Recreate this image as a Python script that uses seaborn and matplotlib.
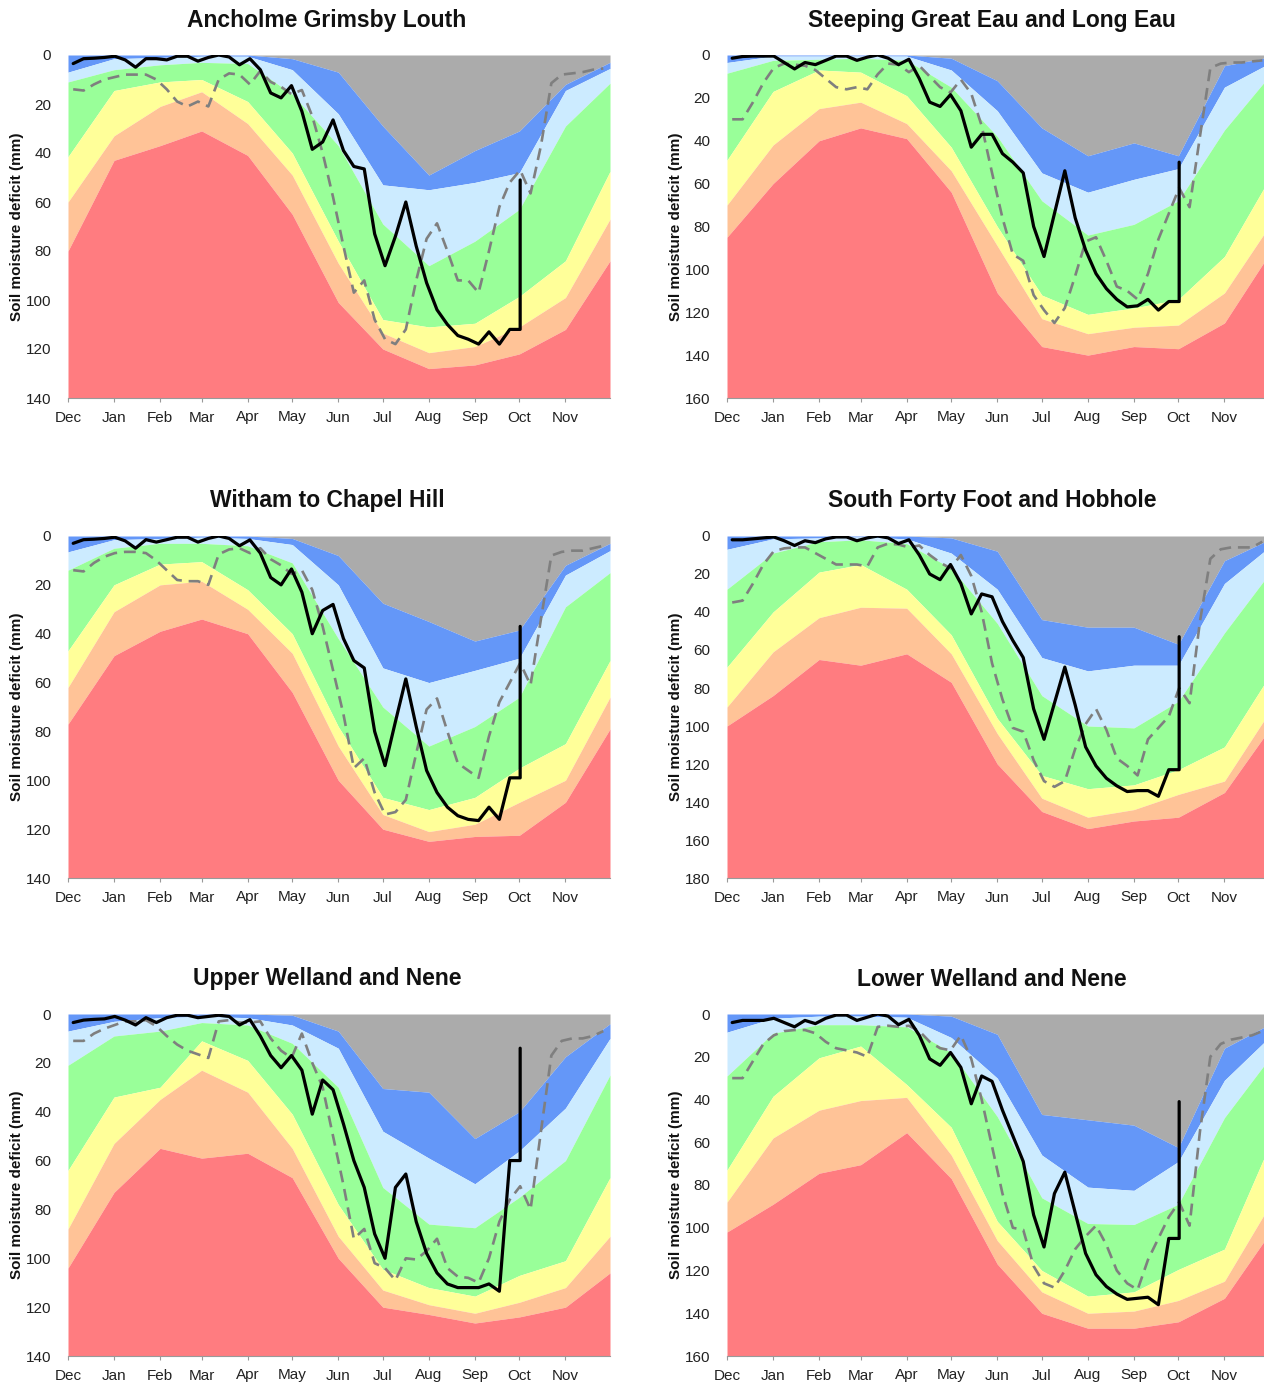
import numpy as np
import pandas as pd
import matplotlib
matplotlib.use("Agg")
import matplotlib.pyplot as plt
import seaborn as sns

# ---------------- data ----------------
months = ["Dec", "Jan", "Feb", "Mar", "Apr", "May", "Jun", "Jul", "Aug", "Sep", "Oct", "Nov"]
month_start_day = [0, 31, 62, 90, 121, 151, 182, 212, 243, 274, 304, 335]
season_end_day = 365
band_names = ["gray", "blue", "lightblue", "green", "yellow", "orange", "red"]

# band boundaries (mm) at each month start + season end; rows: gray/blue, blue/lightblue,
# lightblue/green, green/yellow, yellow/orange, orange/red
anc_bounds = [
    [0, 0, 0, 0, 0, 1.5, 7, 29, 49, 39, 31, 12, 3],
    [7, 1.5, 1, 0.5, 0.5, 6, 24, 53, 55, 52, 48, 14.5, 5.5],
    [11, 6, 4, 3, 3.5, 16, 37, 69, 86, 76, 63, 29, 11.5],
    [41.5, 14.5, 11, 10, 19, 40, 76, 108, 111, 109.5, 98.5, 84, 47.5],
    [60, 33, 21, 15, 28, 49, 85, 113.5, 121.5, 119, 111, 99, 67],
    [80, 43, 37, 31, 41, 65, 101, 120, 128, 126.5, 122, 112, 84],
]
anc_current = [3.5, 1.5, 1.3, 1, 0.5, 2, 5, 1.5, 1.5, 2, 0.5, 0.5, 2.5, 1, 0, 0.8, 4,
               1.5, 6, 15.5, 17.5, 12.5, 23, 38.5, 35.5, 26.5, 39, 45.5, 46.5, 73, 86, 74,
               60, 78, 93, 104, 110, 114.5, 116, 118, 113, 118, 112, 112]
anc_latest = 51
anc_previous = [14, 14.5, 12, 10, 9, 8, 8, 8, 10, 14, 19, 21, 19, 21, 10, 7.5, 8,
                12, 6.5, 11, 13, 16, 14.3, 25, 40, 58, 78, 97, 92, 108, 116, 118, 112, 92,
                75, 68.7, 80, 92, 92, 97, 80, 62, 52, 47, 56.5, 37, 11.5, 8, 7.5, 7, 6, 5.5]

ste_bounds = [
    [0, 0, 0, 0, 0, 1.5, 12, 34, 47, 41, 47, 5, 1],
    [3.5, 0.5, 0.5, 0.5, 0.5, 7, 26, 55, 64, 58, 53, 15, 4],
    [8.5, 2.5, 2, 1.5, 2.5, 15, 38, 68, 84, 79, 68, 35, 10],
    [49, 17, 7, 8, 19, 43, 80, 112, 121, 118, 114, 94, 58],
    [70, 42, 25, 22, 32, 54, 89, 123, 130, 127, 126, 111, 80],
    [85, 60, 40, 34, 39, 64, 111, 136, 140, 136, 137, 125, 93],
]
ste_current = [1.5, 0.7, 0.5, 0.5, 0.5, 3.5, 6.5, 3.5, 4.5, 2.5, 0.5, 0.5, 2.5, 1, 0, 1.5, 4.5,
               2, 11, 22, 24, 18.5, 26, 43, 37, 37, 46, 50, 55, 80, 94, 74, 54, 76, 91, 102,
               109, 114, 117.5, 117, 114, 119, 115, 115]
ste_latest = 50
ste_previous = [30, 30, 22, 13, 6, 4, 4.5, 5, 7, 11, 15, 16, 15, 16, 9, 4, 4.5,
                8, 5, 10, 15, 17.5, 11.5, 18, 33, 55, 76, 93, 96, 112, 119, 125, 118, 103,
                87, 85, 96, 108, 110, 114, 102, 86, 74, 62, 71, 38, 6, 4, 3.5, 3.5, 3, 2.5]

wit_bounds = [
    [0, 0, 0, 0, 0, 1, 8, 27.5, 35, 43, 38.5, 12, 3],
    [6.5, 1.5, 1, 0.5, 1, 3.5, 20, 54, 60, 55, 50, 16, 6],
    [14, 5, 3, 3, 4, 11, 42, 70, 86, 78, 66, 29, 15],
    [47, 20, 11.5, 10.5, 22, 40, 78, 107, 112, 107, 95, 85, 51],
    [62, 31, 20, 18.5, 30, 48, 86, 114, 121, 118, 109, 100, 66],
    [77, 49, 39, 34, 40, 64, 100, 120, 125, 123, 122.5, 109, 79],
]
wit_current = [3, 1.5, 1.3, 1, 0.5, 2, 5, 1.5, 2.5, 1.5, 0.5, 0.5, 2.5, 1, 0, 1, 4,
               1.6, 7, 17, 20, 13.5, 23, 40, 30.5, 28, 42, 51, 54, 80, 94, 76, 58.5, 78, 96,
               105, 111, 114.5, 116, 116.5, 111, 116, 99, 99]
wit_latest = 37
wit_previous = [14, 14.5, 11, 8.5, 7, 6.5, 6.5, 7, 10, 14, 18, 18.5, 18.5, 20, 7.5, 5.5, 5,
                7, 5, 9.5, 12, 15.5, 14, 22, 37, 55, 73, 95, 91, 105, 114, 113, 108, 89, 71,
                66.5, 80, 93, 96, 99, 82, 68, 60, 52, 61, 34, 8, 6.5, 6, 6, 5, 4]

sff_bounds = [
    [0, 0, 0, 0, 0, 1, 8, 44, 48, 48, 57, 13, 2],
    [7, 1.5, 1, 0.5, 1.5, 9, 28, 64, 71, 68, 68, 25, 6],
    [28, 9, 3, 2, 4, 17, 46, 84, 100, 101, 87, 51, 20],
    [69, 40, 19, 15, 28, 52, 96, 126, 133, 131, 123, 111, 74],
    [90, 61, 43, 37.5, 38, 62, 104, 138, 148, 144, 136, 129, 93],
    [100, 84, 65, 68, 62, 77, 120, 145, 154, 150, 148, 135, 102],
]
sff_current = [2, 2, 1.5, 1, 0.5, 2.5, 5, 2.5, 3.5, 1.5, 0.5, 0.5, 2.5, 1, 0, 1, 4,
               2, 10, 20, 23, 15, 25, 41, 30.5, 32, 45, 55, 64, 91, 107, 88, 69, 89, 111,
               121, 127.5, 131.5, 134.5, 134, 134, 137, 123, 123]
sff_latest = 53
sff_previous = [35, 34, 25, 15, 8, 6.5, 6, 6, 9, 12, 15, 15, 15, 16, 6, 4, 4.5,
                6, 5, 10, 14, 17, 10, 21, 40, 67, 86, 101, 103, 118, 129, 132, 129, 112, 99,
                91, 102, 117, 121, 126, 107, 101, 95, 80, 88, 45, 12, 7, 6, 6, 6, 3]

uwn_bounds = [
    [0, 0, 0, 0, 0, 0.5, 7, 30.5, 32, 51, 40, 17.5, 4],
    [7, 3, 1.5, 1, 1.5, 4.5, 14, 48, 59, 69.5, 56, 38.5, 10],
    [21, 9, 7, 3.5, 4.5, 12, 30, 71, 86, 87.5, 75, 60, 25],
    [64, 34, 30, 11, 19, 41, 78, 104.5, 112, 115.5, 107, 101, 67],
    [88, 53, 35, 23, 32, 55, 91, 113, 119, 122.5, 118, 112, 91],
    [104, 73, 55, 59, 57, 67, 100, 120, 123, 126.5, 124, 120, 106],
]
uwn_current = [3.5, 2.5, 2.2, 2, 1, 2.5, 4.5, 1.5, 3.5, 1.5, 0.5, 0.5, 1.5, 1, 0.5, 1, 4.5,
               2.3, 9, 17, 22, 17, 23, 41, 27, 31, 45, 60, 71, 90, 100, 71, 65.5, 85, 98,
               106, 110.5, 112, 112, 112, 110.5, 113.5, 60, 60]
uwn_latest = 14
uwn_previous = [11, 11, 8, 6, 4.5, 3, 3, 2.5, 5, 9, 12.5, 15, 16.5, 18, 3, 2.5, 3.5,
                3.5, 3, 10, 15, 18, 8, 20, 30, 50, 70, 92, 88, 102, 104, 109, 100, 100.5, 97,
                92, 104, 107.5, 108, 110, 100, 85, 76, 70.5, 80, 48, 17, 11, 10, 10, 9, 7]

lwn_bounds = [
    [0, 0, 0, 0, 0, 1, 9.5, 47, 49.5, 52, 62.5, 16, 5],
    [8.5, 2, 1, 1, 1.5, 11, 30, 66, 81, 82.5, 69, 31, 11],
    [29, 9, 5, 5, 6, 18, 48, 86, 98, 98.5, 89, 48.5, 21],
    [73, 38.5, 20.5, 15, 33, 53, 97, 120, 132, 130, 119.5, 110, 62],
    [88, 58, 45, 40.5, 39, 66, 106, 130, 140, 139, 134, 125, 90],
    [102, 89, 74.5, 70.5, 55.5, 77, 117, 140, 147, 147, 144, 133, 103],
]
lwn_current = [4, 3, 3, 3, 2, 4, 6, 3, 4.5, 2, 0.5, 0.5, 3, 1.5, 0, 1, 5,
               2.5, 10, 21, 24, 18, 25, 42, 29, 31.5, 45, 57, 69, 94, 109, 84, 74, 93, 112,
               122, 127.5, 131, 133.5, 133, 132.5, 136, 105, 105]
lwn_latest = 41
lwn_previous = [30, 30, 22, 14, 10, 8, 7.5, 7.5, 9, 13, 16, 17, 18, 20, 6, 5.5, 6,
                5.5, 8, 13, 16, 17, 10, 21, 40, 62, 84, 100, 101, 118, 126, 128, 120, 110, 104,
                99, 108, 120, 126, 129, 115, 105, 95, 88, 99, 55, 20, 14, 12, 11, 10, 8]

titles = ["Ancholme Grimsby Louth", "Steeping Great Eau and Long Eau",
          "Witham to Chapel Hill", "South Forty Foot and Hobhole",
          "Upper Welland and Nene", "Lower Welland and Nene"]
y_max = [140, 160, 140, 180, 140, 160]

# ---------------- style ----------------
sns.set_theme(style="ticks")
plt.rcParams["font.family"] = ["Liberation Sans", "DejaVu Sans"]

band_colors = {"gray": "#ABABAB", "blue": "#6497F8", "lightblue": "#CCEBFF",
               "green": "#99FF99", "yellow": "#FFFF99", "orange": "#FFC397",
               "red": "#FF7C80"}

panels = [
    (anc_bounds, anc_current, anc_latest, anc_previous),
    (ste_bounds, ste_current, ste_latest, ste_previous),
    (wit_bounds, wit_current, wit_latest, wit_previous),
    (sff_bounds, sff_current, sff_latest, sff_previous),
    (uwn_bounds, uwn_current, uwn_latest, uwn_previous),
    (lwn_bounds, lwn_current, lwn_latest, lwn_previous),
]

W, H = 1264, 1385
fig = plt.figure(figsize=(W / 100, H / 100), dpi=100)

col_left = [68, 727]
row_top = [55, 536, 1014]
row_bottom = [398, 878, 1356]
ax_w = 542

band_x = np.array(month_start_day + [season_end_day], dtype=float)

for i, (bounds, current, latest, previous) in enumerate(panels):
    r, c = divmod(i, 2)
    left = col_left[c] / W
    bottom = 1 - row_bottom[r] / H
    height = (row_bottom[r] - row_top[r]) / H
    ax = fig.add_axes([left, bottom, ax_w / W, height])
    ymax = y_max[i]
    edges = [np.zeros(len(band_x))] + [np.array(b, float) for b in bounds] + [np.full(len(band_x), ymax)]
    for k, name in enumerate(band_names):
        ax.fill_between(band_x, edges[k], edges[k + 1], color=band_colors[name],
                        linewidth=0, zorder=1)

    # previous year (dashed)
    prev_days = 3.5 + 7 * np.arange(len(previous))
    df_prev = pd.DataFrame({"day": prev_days, "smd": previous})
    sns.lineplot(data=df_prev, x="day", y="smd", ax=ax, sort=False, estimator=None,
                 color="#7F7F7F", linewidth=1.9, linestyle=(0, (4.5, 2.6)), zorder=3)

    # current year (solid black) with final jump
    cur_days = 3.5 + 7 * np.arange(len(current))
    df_cur = pd.DataFrame({"day": np.append(cur_days, cur_days[-1]),
                           "smd": list(current) + [latest]})
    sns.lineplot(data=df_cur, x="day", y="smd", ax=ax, sort=False, estimator=None,
                 color="black", linewidth=2.3, zorder=4)

    ax.set_xlim(0, season_end_day)
    ax.set_ylim(ymax, 0)
    ax.set_xticks(month_start_day)
    ax.set_xticklabels(months)
    ax.set_yticks(np.arange(0, ymax + 1, 20))
    ax.tick_params(axis="both", labelsize=11, colors="#222222", length=3, width=0.8)
    ax.tick_params(axis="x", pad=6, color="#999999")
    ax.tick_params(axis="y", length=0, pad=12)
    ax.set_xlabel("")
    ax.set_ylabel("Soil moisture deficit (mm)", fontsize=11, fontweight="bold", color="#111111")
    ax.yaxis.set_label_coords(-0.081, 0.5)
    for s in ["top", "right", "left"]:
        ax.spines[s].set_visible(False)
    ax.spines["bottom"].set_color("#999999")
    ax.spines["bottom"].set_linewidth(0.8)
    title_x = (327 - 68) / ax_w if c == 0 else (992 - 727) / ax_w
    ax.text(title_x, 1 + 35 / (row_bottom[r] - row_top[r]), titles[i], transform=ax.transAxes,
            ha="center", va="center", fontsize=16.5, fontweight="bold", color="#111111")

fig.savefig("out.png", dpi=100)
